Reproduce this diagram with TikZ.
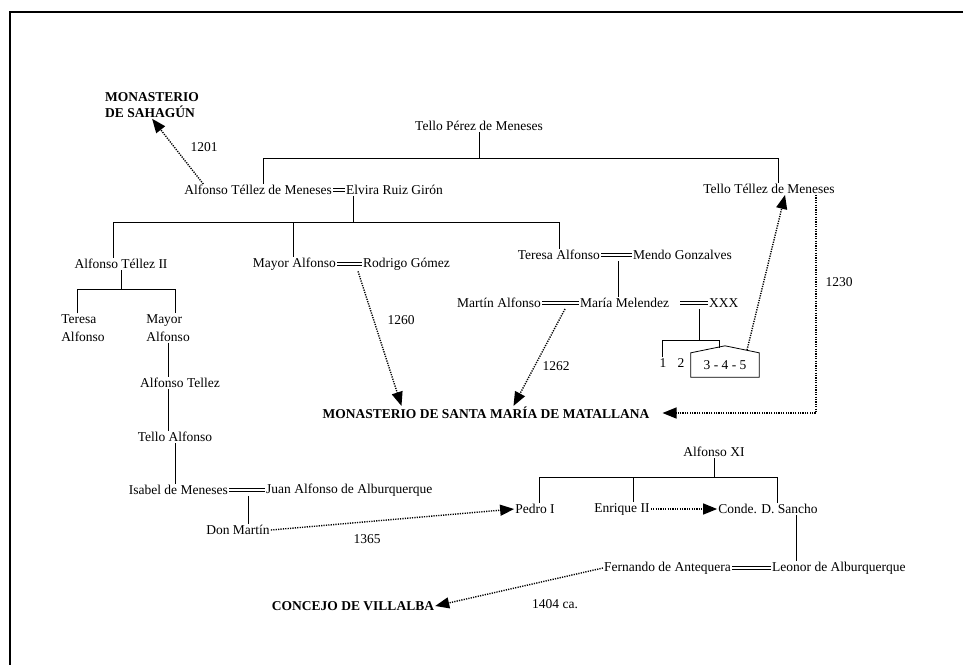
\documentclass[tikz,border=0pt]{standalone}
\usepackage{fontspec}
\setmainfont{Liberation Serif}
\usetikzlibrary{arrows.meta}

\tikzstyle{pers} = [inner sep=1pt, font=\fontsize{13.5}{18}\selectfont]
\tikzstyle{inst} = [inner sep=1pt, font=\fontsize{13.5}{16}\selectfont\bfseries]
\tikzstyle{year} = [inner sep=1pt, font=\fontsize{13.5}{16}\selectfont]
\tikzstyle{kin}  = [line width=0.8pt]
\tikzstyle{wed}  = [double, double distance=1.6pt, line width=0.9pt]
\tikzstyle{gift} = [line width=1.4pt, dash pattern=on 1.2pt off 1.2pt, -{Triangle[length=14pt,width=11pt]}]

\begin{document}
\begin{tikzpicture}[x=1pt,y=-1pt]
			\useasboundingbox (0,0) rectangle (965,665);
			\draw[line width=1.8pt] (963,12) -- (10,12) -- (10,665);

			\node [inst,anchor=west,align=left] at (104,105) (sahagun){MONASTERIO\\DE SAHAGÚN};
			\node [pers] at (479,126) (tpm){Tello Pérez de Meneses};
			\node [pers,anchor=east] at (333,190) (atm){Alfonso Téllez de Meneses};
			\node [pers,anchor=west] at (345,190) (elvira){Elvira Ruiz Girón};
			\node [pers] at (769,189) (ttm){Tello Téllez de Meneses};

			\node [pers] at (121,264) (ate2){Alfonso Téllez II};
			\node [pers,anchor=east] at (337,264) (mayor){Mayor Alfonso};
			\node [pers,anchor=west] at (362,264) (rodrigo){Rodrigo Gómez};
			\node [pers,anchor=east] at (601,255) (teresa){Teresa Alfonso};
			\node [pers,anchor=west] at (632,255) (mendo){Mendo Gonzalves};

			\node [pers,align=left] at (83,328) (tere2){Teresa\\Alfonso};
			\node [pers,align=left] at (168,328) (mayor2){Mayor\\Alfonso};
			\node [pers,below of=mayor2,node distance=55pt,xshift=12pt](atell){Alfonso Tellez};
			\node [pers,below of=atell,node distance=54pt,xshift=-5pt](tall){Tello Alfonso};
			\node [pers,anchor=east] at (229,490) (isabel){Isabel de Meneses};
			\node [pers,anchor=west] at (265,490) (juan){Juan Alfonso de Alburquerque};
			\node [pers] at (238,530) (donm){Don Martín};

			\node [pers,anchor=east] at (542,303) (martin){Martín Alfonso};
			\node [pers,anchor=west] at (579,303) (maria){María Melendez};
			\node [pers,anchor=west] at (708,303) (xxx){XXX};
			\node [pers] at (663,363) (one){1};
			\node [pers] at (681,363) (two){2};
			\node [pers,minimum width=68pt,minimum height=24pt,inner sep=0pt] at (725,365) (kids){3 - 4 - 5};

			\node [inst] at (486,413) (matallana){MONASTERIO DE SANTA MARÍA DE MATALLANA};

			\node [pers] at (714,452) (axi){Alfonso XI};
			\node [pers] at (535,509) (pedro){Pedro I};
			\node [pers] at (622,509) (enrique){Enrique II};
			\node [pers] at (768,509) (conde){Conde. D. Sancho};
			\node [pers,anchor=east] at (732,568) (fern){Fernando de Antequera};
			\node [pers,anchor=west] at (771,568) (leonor){Leonor de Alburquerque};
			\node [inst] at (353,606) (concejo){CONCEJO DE VILLALBA};

			\node [year] at (204,147) (y1201){1201};
			\node [year] at (401,320) (y1260){1260};
			\node [year] at (556,366) (y1262){1262};
			\node [year] at (839,282) (y1230){1230};
			\node [year] at (367,539) (y1365){1365};
			\node [year] at (555,604) (y1404){1404 ca.};

			\coordinate (bar1l) at (263,158);
			\coordinate (bar1r) at (778,158);
			\coordinate (wed1) at (353,222);
			\coordinate (bar2l) at (113,222);
			\coordinate (bar2c) at (293,222);
			\coordinate (bar2r) at (559,222);
			\coordinate (bar3l) at (77,289);
			\coordinate (bar3r) at (175,289);
			\coordinate (wed2) at (248,490);
			\coordinate (wed3) at (618,255);
			\coordinate (wed4) at (699,303);
			\coordinate (bar4l) at (662,340);
			\coordinate (bar4r) at (719,340);
			\coordinate (roof) at (719,348);
			\coordinate (roof2) at (747,350);
			\coordinate (bar5l) at (539,477);
			\coordinate (bar5c) at (633,477);
			\coordinate (bar5r) at (777,477);
			\coordinate (desc) at (796,509);

			\draw[kin] (tpm.south) -- (tpm.south |- bar1l);
			\draw[kin] (atm.north -| bar1l) |- (bar1r) -- (bar1r |- ttm.north);
			\draw[wed] (atm.east) -- (elvira.west);
			\draw[kin] (wed1 |- elvira.south) -- (wed1);
			\draw[kin] (ate2.north -| bar2l) |- (bar2r) -- (bar2r |- teresa.north);
			\draw[kin] (bar2c) -- (bar2c |- mayor.north);
			\draw[wed] (mayor.east) -- (rodrigo.west);
			\draw[wed] (teresa.east) -- (mendo.west);
			\draw[kin] (ate2.south) -- (ate2.south |- bar3l);
			\draw[kin] (tere2.north -| bar3l) |- (bar3r) -- (bar3r |- mayor2.north);
			\draw[kin] (mayor2.south) -- (mayor2.south |- atell.north);
			\draw[kin] (atell.south -| mayor2.south) -- (tall.north -| mayor2.south);
			\draw[kin] (tall.south) -- (tall.south |- isabel.north);
			\draw[wed] (isabel.east) -- (juan.west);
			\draw[kin] (wed2 |- isabel.south) -- (wed2 |- donm.north);
			\draw[kin] (wed3 |- teresa.south) -- (wed3 |- maria.north);
			\draw[wed] (martin.east) -- (maria.west);
			\draw[wed] ([xshift=10pt]maria.east) -- (xxx.west);
			\draw[kin] (wed4 |- maria.south) -- (wed4 |- bar4l);
			\draw[kin] (one.north -| bar4l) |- (bar4r) -- (roof);
			\draw[kin] (kids.south west) -- (kids.north west) -- ([yshift=7pt]kids.north) -- (kids.north east) -- (kids.south east) -- cycle;
			\draw[kin] (axi.south) -- (axi.south |- bar5l);
			\draw[kin] (pedro.north -| bar5l) |- (bar5r) -- (bar5r |- conde.north);
			\draw[kin] (bar5c) -- (bar5c |- enrique.north);
			\draw[kin] (desc |- conde.south) -- (desc |- leonor.north);
			\draw[wed] (fern.east) -- (leonor.west);

			\draw[gift] ([xshift=20pt]atm.north west) -- (sahagun.south);
			\draw[gift] ([xshift=-4pt]rodrigo.south west) -- ([xshift=80pt]matallana.north west);
			\draw[gift] ([xshift=-14pt]maria.south west) -- ([xshift=192pt]matallana.north west);
			\draw[gift] (roof2) -- ([xshift=16pt]ttm.south);
			\draw[gift] ([xshift=47pt]ttm.south) |- ([xshift=12pt]matallana.east);
			\draw[gift] (donm.east) -- (pedro.west);
			\draw[gift] (enrique.east) -- (conde.west);
			\draw[gift] (fern.west) -- (concejo.east);
\end{tikzpicture}
\end{document}
